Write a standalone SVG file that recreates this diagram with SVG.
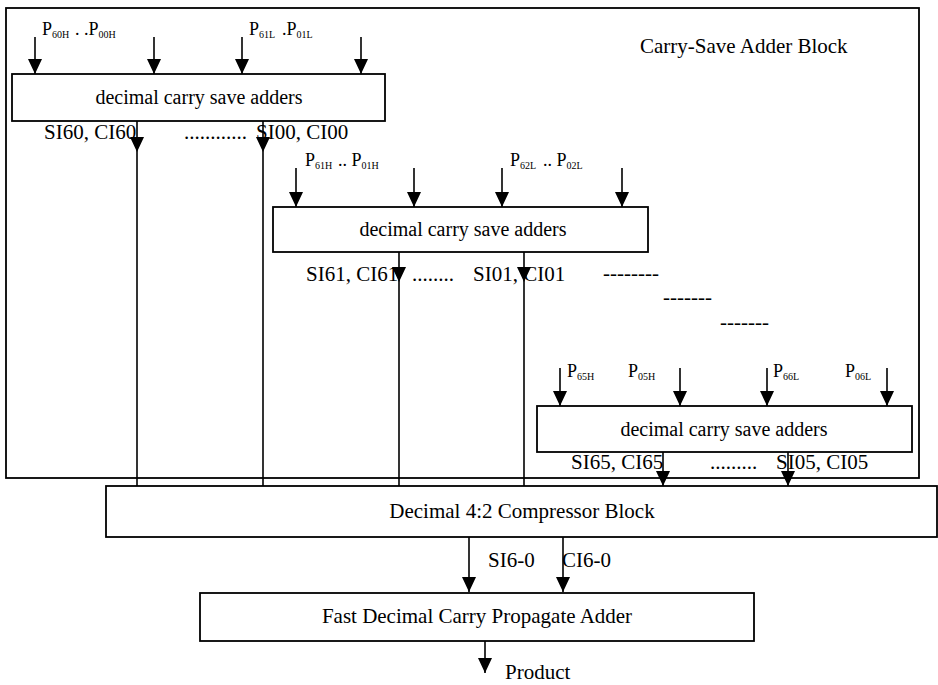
<svg xmlns="http://www.w3.org/2000/svg" width="938" height="685" viewBox="0 0 938 685">
<style>
.box{fill:none;stroke:#000;stroke-width:1.8}
.ln{fill:none;stroke:#000;stroke-width:1.6}
.ar{fill:none;stroke:#000;stroke-width:1.6;marker-end:url(#ah)}
text{font-family:"Liberation Serif","Times New Roman",serif;fill:#000}
.t{font-size:21px}
.c{font-size:20px;text-anchor:middle}
.cb{font-size:21px;text-anchor:middle}
.p{font-size:18px}
.s{font-size:10px}
</style>
<defs>
<marker id="ah" markerUnits="userSpaceOnUse" viewBox="0 0 15 14" refX="15" refY="7" markerWidth="15" markerHeight="14" orient="auto">
<path d="M0,0 L15,7 L0,14 z" fill="#000"/>
</marker>
</defs>
<rect width="938" height="685" fill="#fff"/>

<g id="csa-block">
<rect class="box" x="6" y="8" width="913" height="470"/>
<text class="t" x="640" y="53">Carry-Save Adder Block</text>
</g>

<g id="csa1">
<rect class="box" x="12" y="74" width="373" height="47"/>
<text class="c" x="199" y="104">decimal carry save adders</text>
</g>

<g id="csa2">
<rect class="box" x="273" y="207" width="375" height="45"/>
<text class="c" x="463" y="236">decimal carry save adders</text>
</g>

<g id="csa3">
<rect class="box" x="537" y="406" width="375" height="46"/>
<text class="c" x="724" y="436">decimal carry save adders</text>
</g>

<g id="compressor">
<rect class="box" x="106" y="486" width="831" height="51"/>
<text class="cb" x="522" y="518">Decimal 4:2 Compressor Block</text>
</g>

<g id="cpa">
<rect class="box" x="200" y="593" width="554" height="48"/>
<text class="cb" x="477" y="623">Fast Decimal Carry Propagate Adder</text>
</g>

<g id="connectors">
<path class="ar" d="M35,37 V74"/>
<path class="ar" d="M154,37 V74"/>
<path class="ar" d="M242,37 V74"/>
<path class="ar" d="M361,37 V74"/>
<path class="ar" d="M296,168 V207"/>
<path class="ar" d="M414,168 V207"/>
<path class="ar" d="M502,168 V207"/>
<path class="ar" d="M622,168 V207"/>
<path class="ar" d="M560,368 V406"/>
<path class="ar" d="M680,368 V406"/>
<path class="ar" d="M767,368 V406"/>
<path class="ar" d="M887,368 V406"/>
<path class="ar" d="M137,121 V152"/>
<path class="ln" d="M137,152 V486"/>
<path class="ar" d="M263,121 V152"/>
<path class="ln" d="M263,152 V486"/>
<path class="ar" d="M399,252 V282"/>
<path class="ln" d="M399,282 V486"/>
<path class="ar" d="M524,252 V282"/>
<path class="ln" d="M524,282 V486"/>
<path class="ar" d="M663,452 V486"/>
<path class="ar" d="M788,452 V486"/>
<path class="ar" d="M469,537 V592"/>
<path class="ar" d="M563,537 V592"/>
<path class="ar" d="M485,641 V673"/>
</g>

<g id="labels">
<text class="p" x="42" y="35">P<tspan class="s" dy="3">60H</tspan><tspan dy="-3" x="75">. .P</tspan><tspan class="s" dy="3">00H</tspan></text>
<text class="p" x="249" y="35">P<tspan class="s" dy="3">61L</tspan><tspan dy="-3" x="282">.P</tspan><tspan class="s" dy="3">01L</tspan></text>

<text class="p" x="305" y="166">P<tspan class="s" dy="3">61H</tspan><tspan dy="-3" x="338">.. P</tspan><tspan class="s" dy="3">01H</tspan></text>
<text class="p" x="510" y="166">P<tspan class="s" dy="3">62L</tspan><tspan dy="-3" x="543">.. P</tspan><tspan class="s" dy="3">02L</tspan></text>

<text class="p" x="567" y="377">P<tspan class="s" dy="3">65H</tspan></text>
<text class="p" x="628" y="377">P<tspan class="s" dy="3">05H</tspan></text>
<text class="p" x="773" y="377">P<tspan class="s" dy="3">66L</tspan></text>
<text class="p" x="845" y="377">P<tspan class="s" dy="3">06L</tspan></text>

<text class="t" x="44" y="139">SI60, CI60</text>
<text class="t" x="184" y="139">............<tspan x="256">SI00, CI00</tspan></text>
<text class="t" x="306" y="281">SI61, CI61</text>
<text class="t" x="412" y="281">........<tspan x="473">SI01, CI01</tspan></text>
<text class="t" x="571" y="469">SI65, CI65</text>
<text class="t" x="710" y="469">.........<tspan x="776">SI05, CI05</tspan></text>

<text class="t" x="603" y="280">--------</text>
<text class="t" x="663" y="304">-------</text>
<text class="t" x="720" y="329">-------</text>

<text class="t" x="488" y="567">SI6-0</text>
<text class="t" x="562" y="567">CI6-0</text>
<text class="t" x="505" y="679">Product</text>
</g>
</svg>
